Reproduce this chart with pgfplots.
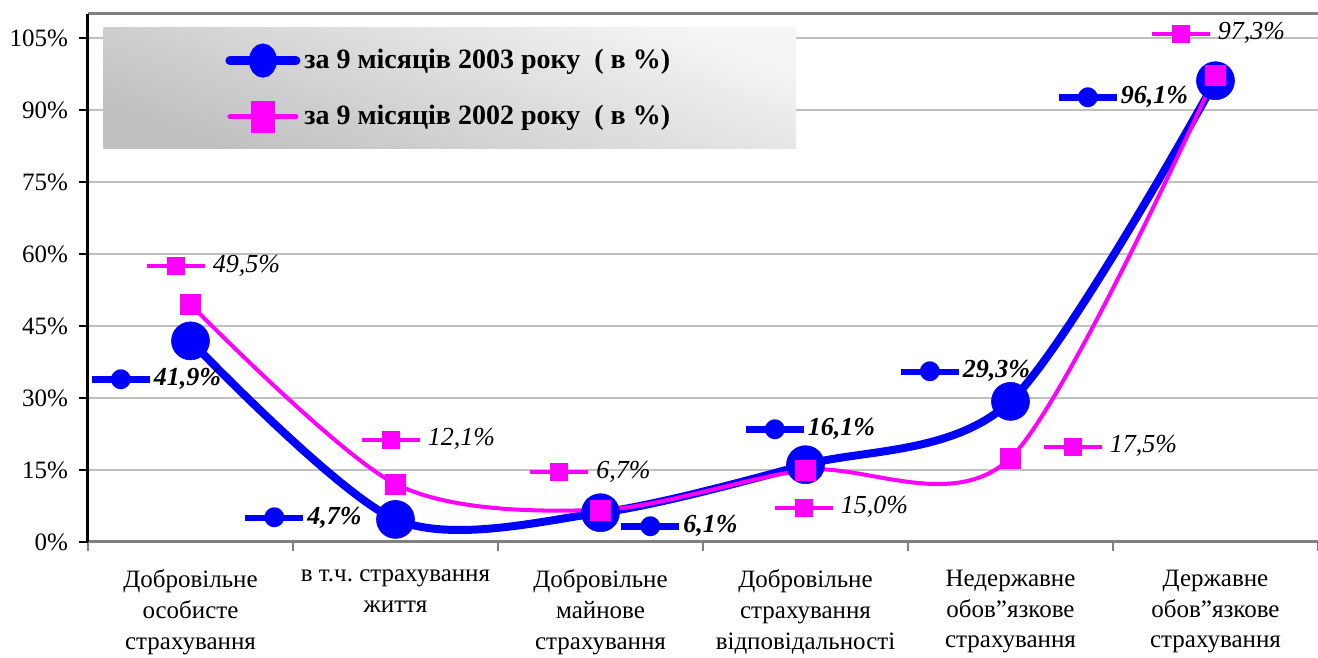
\documentclass[border=0pt]{standalone}
\usepackage{pgfplots}
\pgfplotsset{compat=1.18}
\usepackage{pgfplotstable}
\usepackage{fontspec}
\setmainfont{Liberation Serif}
\newfontfamily\dejavu{DejaVu Sans}
\definecolor{bl}{RGB}{0,0,255}
\definecolor{pk}{RGB}{255,0,255}
\definecolor{gridc}{RGB}{192,192,192}
\newcommand{\bkey}{{\color{bl}\rlap{$\vcenter{\hbox{\rule{29pt}{3.2pt}}}$}\makebox[29pt]{$\vcenter{\hbox{\dejavu\fontsize{13pt}{13pt}\selectfont ●}}$}}}
\newcommand{\pkey}{{\color{pk}\rlap{$\vcenter{\hbox{\rule{29pt}{2pt}}}$}\makebox[29pt]{$\vcenter{\hbox{\rule{9pt}{9pt}}}$}}}

\pgfplotstableread{
x y dx dy
0 41.9 -17 -19
1 4.7 -46 1
2 6.1 39.5 -6.5
3 16.1 2.5 18
4 29.3 -22.5 15
5 96.1 -46 -8
}\bluedata
\pgfplotstableread{
x y dx dy
0 49.5 11.5 19.5
1 12.1 16.5 22.5
2 6.7 -5 19
3 15.0 18 -18.5
4 17.5 50 6
5 97.3 1.5 21
}\pinkdata

\begin{document}
\frenchspacing
\begin{tikzpicture}
\useasboundingbox (-44pt,-58pt) rectangle (615pt,271pt);
\begin{axis}[
  scale only axis, width=615pt, height=264pt,
  xmin=-0.5, xmax=5.5, ymin=0, ymax=110,
  clip=false,
  axis line style={draw=none},
  tick pos=left,
  /pgf/number format/assume math mode=true,
  xtick={-0.5,0.5,1.5,2.5,3.5,4.5,5.5}, xticklabels={},
  extra x ticks={0,1,2,3,4,5},
  extra x tick labels={{Добровільне\\особисте\\страхування},{в т.ч.\ страхування\\життя},{Добровільне\\майнове\\страхування},{Добровільне\\страхування\\відповідальності},{Недержавне\\обов”язкове\\страхування},{Державне\\обов”язкове\\страхування}},
  extra x tick style={major tick length=0pt},
  xticklabel style={align=center, anchor=north, yshift=-10.5pt, font=\fontsize{12.5pt}{15.3pt}\selectfont},
  ytick={0,15,...,105},
  yticklabel={\pgfmathprintnumber{\tick}\%},
  yticklabel style={xshift=-2pt, font=\fontsize{12.5pt}{15pt}\selectfont},
  tick align=outside, major tick length=4.5pt,
  xtick style={gray, line width=0.8pt},
  ytick style={black, line width=1.2pt},
  ymajorgrids, major grid style={gridc, line width=1pt},
  legend style={at={(axis description cs:0.0122,0.975)}, anchor=north west,
    draw=none, top color=black!4, bottom color=black!25, shading angle=-20,
    font=\bfseries\fontsize{14pt}{16pt}\selectfont,
    inner xsep=61pt, inner ysep=8pt, row sep=11.5pt},
  legend cell align=left,
]
\draw[gray, line width=1.5pt] (rel axis cs:0,0) -- (rel axis cs:1,0);
\draw[gray, line width=1.5pt] (rel axis cs:0,1) -- (rel axis cs:1,1);

\addplot[bl, line width=4pt, smooth, tension=0.5,
  mark=*, mark size=9.5pt, mark options={solid, line width=0.3pt, fill=bl},
  point meta=y,
  visualization depends on={\thisrow{dx} \as \dx},
  visualization depends on={\thisrow{dy} \as \dy},
  nodes near coords={\bkey\kern2pt\textbf{\textit{\pgfmathprintnumber[fixed,fixed zerofill,precision=1,use comma]{\pgfplotspointmeta}\%}}},
  nodes near coords style={anchor=center, xshift=\dx pt, yshift=\dy pt, text=black, font=\fontsize{13pt}{15pt}\selectfont},
  legend image code/.code={\draw[bl, line width=4.5pt, line cap=round] (0pt,0pt) -- (33pt,0pt); \fill[bl] (16.5pt,0pt) ellipse [x radius=5pt, y radius=6.5pt];}
] table[x=x, y=y] {\bluedata};
\addlegendentry{за 9 місяців 2003 року\ \ ( в \%)}

\addplot[pk, line width=2pt, smooth, tension=0.5,
  mark=square*, mark size=5pt, mark options={solid, line width=0.3pt, fill=pk},
  point meta=y,
  visualization depends on={\thisrow{dx} \as \dx},
  visualization depends on={\thisrow{dy} \as \dy},
  nodes near coords={\pkey\kern4pt\textit{\pgfmathprintnumber[fixed,fixed zerofill,precision=1,use comma]{\pgfplotspointmeta}\%}},
  nodes near coords style={anchor=center, xshift=\dx pt, yshift=\dy pt, text=black, font=\fontsize{13pt}{15pt}\selectfont},
  legend image code/.code={\draw[pk, line width=2.5pt, line cap=round] (0pt,0pt) -- (33pt,0pt); \fill[pk] (11.5pt,-7pt) rectangle (21.5pt,7pt);}
] table[x=x, y=y] {\pinkdata};
\addlegendentry{за 9 місяців 2002 року\ \ ( в \%)}

\draw[black, line width=1.5pt] (rel axis cs:0,0) -- (rel axis cs:0,1);
\end{axis}
\end{tikzpicture}
\end{document}
